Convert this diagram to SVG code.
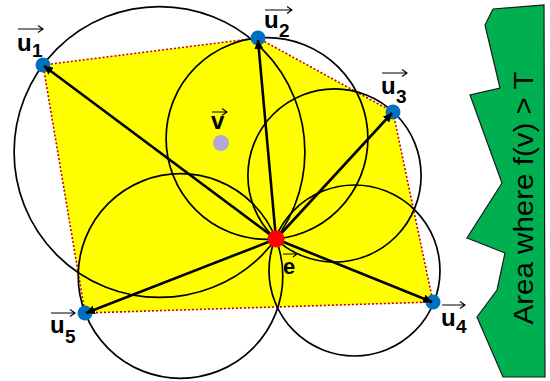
<svg xmlns="http://www.w3.org/2000/svg" width="550" height="381" viewBox="0 0 550 381">
<defs>
<style>
.circ{fill:none;stroke:#000;stroke-width:1.7}
.conn{stroke:#000;stroke-width:2.6;fill:none;marker-end:url(#ah)}
.pt{fill:#0070C0}
.lbl{font-family:"Liberation Sans",Arial,sans-serif;font-weight:bold;font-size:24px;fill:#000}
.sub{font-family:"Liberation Sans",Arial,sans-serif;font-weight:bold;font-size:19px;fill:#000}
.vec{fill:none;stroke:#000;stroke-width:1.1}
</style>
<marker id="ah" viewBox="0 0 10 10" refX="10" refY="5" markerWidth="3.4" markerHeight="3.4" orient="auto" markerUnits="strokeWidth">
<path d="M0,0 L10,5 L0,10 Z" fill="#000"/>
</marker>
</defs>
<g id="green-area">
<polygon points="493,9 544,5 545,377 503,377 477,317 497,290 505,253 467,238 502,183 470,95 500,88 485,25" fill="#00B050" stroke="#1a1a1a" stroke-width="1.2"/>
<text transform="translate(533,198) rotate(-90)" text-anchor="middle" font-family="Liberation Sans, Arial, sans-serif" font-size="28" textLength="253" lengthAdjust="spacingAndGlyphs" fill="#000">Area where f(v) &gt; T</text>
</g>
<g id="hull">
<polygon points="43,65 258,38 393,112 433,302 85,313" fill="#FFFF00" stroke="#C00000" stroke-width="1.6" stroke-dasharray="2,2"/>
</g>
<g id="circles">
<circle class="circ" cx="159.5" cy="152" r="145.4"/>
<circle class="circ" cx="267" cy="138.5" r="100.9"/>
<circle class="circ" cx="334.5" cy="175.5" r="86.6"/>
<circle class="circ" cx="354.5" cy="270.5" r="85.5"/>
<circle class="circ" cx="180.5" cy="276" r="102.3"/>
</g>
<g id="u1"><circle class="pt" cx="43" cy="65" r="7.5"/>
<text class="lbl" x="17" y="51">u</text><text class="sub" x="32" y="57">1</text>
<path class="vec" d="M18,29 H43 M38,25.5 L43,29 L38,32.5"/></g>
<g id="u2"><circle class="pt" cx="258" cy="38" r="7.5"/>
<text class="lbl" x="264" y="28">u</text><text class="sub" x="279" y="37">2</text>
<path class="vec" d="M265,10 H292 M287,6.5 L292,10 L287,13.5"/></g>
<g id="u3"><circle class="pt" cx="393" cy="112" r="7.5"/>
<text class="lbl" x="381" y="94">u</text><text class="sub" x="396" y="103">3</text>
<path class="vec" d="M382,73 H407 M402,69.5 L407,73 L402,76.5"/></g>
<g id="u4"><circle class="pt" cx="433" cy="302" r="7.5"/>
<text class="lbl" x="441" y="326">u</text><text class="sub" x="456" y="333">4</text>
<path class="vec" d="M442,305 H465 M460,301.5 L465,305 L460,308.5"/></g>
<g id="u5"><circle class="pt" cx="85" cy="313" r="7.5"/>
<text class="lbl" x="50" y="333">u</text><text class="sub" x="65" y="343">5</text>
<path class="vec" d="M51,313 H75 M70,309.5 L75,313 L70,316.5"/></g>
<g id="v"><circle cx="221" cy="143" r="8" fill="#B4A7D6"/>
<text class="lbl" x="211" y="129">v</text>
<path class="vec" d="M212,112 H227 M222,108.5 L227,112 L222,115.5"/></g>
<g id="connectors">
<line class="conn" x1="276" y1="239" x2="44" y2="66"/>
<line class="conn" x1="276" y1="239" x2="258" y2="40"/>
<line class="conn" x1="276" y1="239" x2="392" y2="113"/>
<line class="conn" x1="276" y1="239" x2="432" y2="302"/>
<line class="conn" x1="276" y1="239" x2="86" y2="313"/>
</g>
<g id="e"><circle cx="276" cy="239" r="8.5" fill="#FF0000"/>
<text class="lbl" x="283" y="274" style="font-size:22px">e</text>
<path class="vec" d="M283,254 H297 M293,251 L297,254 L293,257"/></g>
</svg>
